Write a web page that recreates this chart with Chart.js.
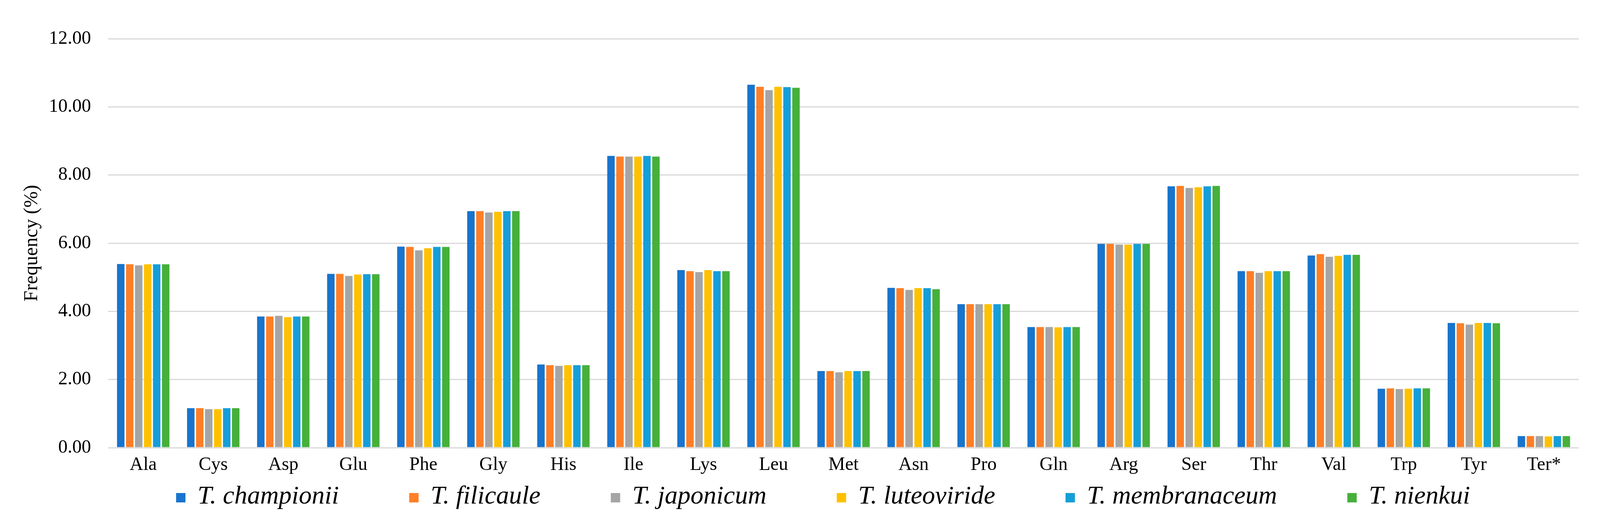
<!DOCTYPE html>
<html>
<head>
<meta charset="utf-8">
<script src="https://cdn.jsdelivr.net/npm/chart.js@4.4.1/dist/chart.umd.min.js"></script>
<style>
    html, body { margin: 0; padding: 0; background: #ffffff; }
    .chart-box { width: 4143px; height: 1353px; position: relative; }
</style>
</head>
<body>
<div class="chart-box"><canvas id="aa-chart"></canvas></div>
<script>
// Amino acid labels (x axis)
const aminoAcids = ["Ala", "Cys", "Asp", "Glu", "Phe", "Gly", "His", "Ile", "Lys", "Leu", "Met",
    "Asn", "Pro", "Gln", "Arg", "Ser", "Thr", "Val", "Trp", "Tyr", "Ter*"];

// Frequency (%) per species
const championii   = [5.39, 1.16, 3.85, 5.10, 5.90, 6.94, 2.44, 8.56, 5.21, 10.65, 2.25, 4.69, 4.21, 3.54, 5.98, 7.67, 5.18, 5.64, 1.73, 3.66, 0.34];
const filicaule    = [5.38, 1.16, 3.85, 5.10, 5.89, 6.94, 2.42, 8.54, 5.18, 10.59, 2.25, 4.68, 4.21, 3.54, 5.98, 7.68, 5.18, 5.68, 1.74, 3.65, 0.34];
const japonicum    = [5.35, 1.13, 3.87, 5.04, 5.79, 6.90, 2.40, 8.54, 5.15, 10.49, 2.21, 4.63, 4.21, 3.54, 5.96, 7.62, 5.13, 5.60, 1.72, 3.61, 0.34];
const luteoviride  = [5.38, 1.13, 3.83, 5.08, 5.85, 6.92, 2.42, 8.54, 5.21, 10.59, 2.25, 4.68, 4.21, 3.53, 5.96, 7.64, 5.18, 5.63, 1.73, 3.66, 0.33];
const membranaceum = [5.38, 1.16, 3.85, 5.09, 5.89, 6.94, 2.42, 8.56, 5.18, 10.58, 2.25, 4.68, 4.21, 3.54, 5.98, 7.67, 5.18, 5.66, 1.74, 3.66, 0.34];
const nienkui      = [5.38, 1.16, 3.85, 5.09, 5.89, 6.94, 2.42, 8.54, 5.18, 10.56, 2.25, 4.65, 4.21, 3.54, 5.98, 7.68, 5.18, 5.66, 1.74, 3.65, 0.34];

const speciesNames = ["T. championii", "T. filicaule", "T. japonicum", "T. luteoviride", "T. membranaceum", "T. nienkui"];
const speciesData = [championii, filicaule, japonicum, luteoviride, membranaceum, nienkui];
const speciesColors = ["#1874CD", "#FF7F27", "#A5A5A5", "#FFC000", "#169ED8", "#45B03A"];

// y axis range
const yMin = 0;
const yMax = 12;
const yStep = 2;

(function () {
    "use strict";

    const serif = "'Liberation Serif', 'Times New Roman', serif";

    // Legend drawn under the axis, Excel style (wide gaps between items)
    const bottomLegend = {
        id: "bottomLegend",
        afterDraw(chart) {
            const ctx = chart.ctx;
            const boxSize = 24;
            const fontSize = 66;
            const textGap = 31;
            const itemGap = 180;
            const baseline = 1288;

            ctx.save();
            ctx.font = "italic " + fontSize + "px " + serif;
            const widths = chart.data.datasets.map((ds) => ctx.measureText(ds.label).width);
            const total = widths.reduce((a, w) => a + boxSize + textGap + w, 0) + itemGap * (widths.length - 1);
            let x = 2107 - total / 2;

            chart.data.datasets.forEach((ds, i) => {
                ctx.fillStyle = ds.backgroundColor;
                ctx.fillRect(x, baseline - boxSize - 3, boxSize, boxSize);
                x += boxSize + textGap;
                ctx.fillStyle = "#000000";
                ctx.textBaseline = "alphabetic";
                ctx.textAlign = "left";
                ctx.fillText(ds.label, x, baseline);
                x += widths[i] + itemGap;
            });
            ctx.restore();
        },
    };

    const ctx = document.getElementById("aa-chart").getContext("2d");

    new Chart(ctx, {
        type: "bar",
        data: {
            labels: aminoAcids,
            datasets: speciesData.map((data, i) => ({
                label: speciesNames[i],
                data: data,
                backgroundColor: speciesColors[i],
                borderWidth: 0,
                categoryPercentage: 0.77,
                barPercentage: 0.83,
            })),
        },
        options: {
            responsive: true,
            maintainAspectRatio: false,
            devicePixelRatio: 1,
            animation: false,
            layout: {
                padding: { left: 0, right: 101, top: 99, bottom: 88 },
            },
            plugins: {
                legend: { display: false },
                tooltip: { enabled: false },
            },
            scales: {
                x: {
                    grid: { display: false, drawTicks: false },
                    border: { display: false },
                    ticks: {
                        color: "#000000",
                        padding: 16,
                        maxRotation: 0,
                        autoSkip: false,
                        font: { family: serif, size: 48 },
                    },
                    afterFit(scale) {
                        scale.height = 120;
                    },
                },
                y: {
                    min: yMin,
                    max: yMax,
                    grid: { color: "#D9D9D9", lineWidth: 3, drawTicks: false },
                    border: { display: false },
                    ticks: {
                        stepSize: yStep,
                        color: "#000000",
                        padding: 44,
                        font: { family: serif, size: 48 },
                        callback: (value) => Number(value).toFixed(2),
                    },
                    title: {
                        display: true,
                        text: "Frequency (%)",
                        color: "#000000",
                        font: { family: serif, size: 50 },
                        padding: { top: 52, bottom: 0 },
                    },
                    afterFit(scale) {
                        scale.width = 277;
                    },
                },
            },
        },
        plugins: [bottomLegend],
    });
})();
</script>
</body>
</html>
